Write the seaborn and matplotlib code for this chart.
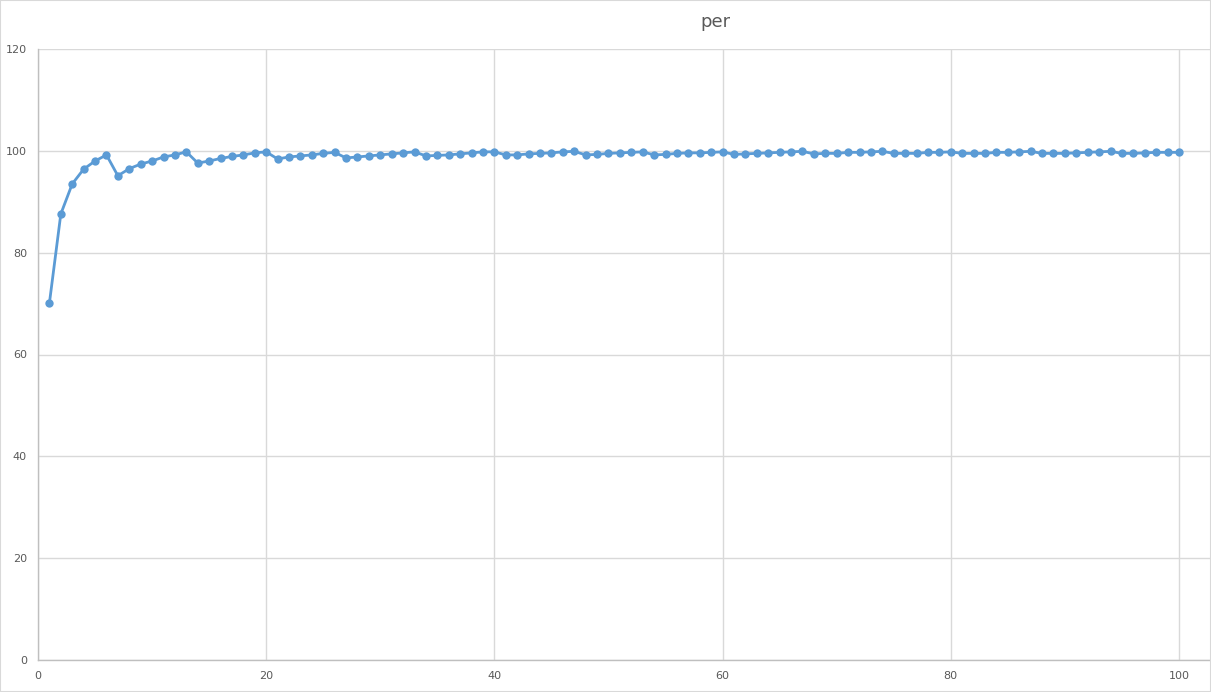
import matplotlib
matplotlib.use("Agg")
import matplotlib.pyplot as plt
import seaborn as sns
import pandas as pd

x_vals = list(range(1, 101))
per_vals = [
    70.1, 87.6, 93.5, 96.4, 98.0, 99.2, 95.1, 96.5, 97.4, 98.0,
    98.8, 99.2, 99.8, 97.6, 98.0, 98.5, 98.9, 99.2, 99.6, 99.8,
    98.4, 98.8, 99.0, 99.2, 99.5, 99.7, 98.6, 98.8, 99.0, 99.2,
    99.4, 99.6, 99.8, 99.0, 99.1, 99.2, 99.4, 99.6, 99.8, 99.8,
    99.2, 99.2, 99.4, 99.5, 99.6, 99.8, 99.9, 99.2, 99.3, 99.5,
    99.6, 99.7, 99.8, 99.2, 99.3, 99.5, 99.6, 99.6, 99.7, 99.8,
    99.3, 99.4, 99.5, 99.6, 99.7, 99.8, 99.9, 99.4, 99.5, 99.5,
    99.7, 99.7, 99.8, 99.9, 99.5, 99.5, 99.5, 99.7, 99.7, 99.8,
    99.5, 99.5, 99.5, 99.7, 99.7, 99.8, 99.9, 99.5, 99.5, 99.5,
    99.6, 99.7, 99.8, 99.9, 99.5, 99.5, 99.6, 99.7, 99.7, 99.7,
]
x_ticks = [0, 20, 40, 60, 80, 100]
y_ticks = [0, 20, 40, 60, 80, 100, 120]
title = "per"

df = pd.DataFrame({"x": x_vals, "per": per_vals})

sns.set_theme(style="white")
plt.rcParams['font.family'] = ['DejaVu Sans']

fig = plt.figure(figsize=(12.11, 6.92), dpi=100)
ax = fig.add_axes([38/1211, 1 - 660/692, (1210-38)/1211, (660-49)/692])

sns.lineplot(data=df, x="x", y="per", ax=ax, color="#5B9BD5", linewidth=2,
             marker="o", markersize=6, markeredgewidth=0, markerfacecolor="#5B9BD5")

ax.set_xlim(0, (1210 - 38) / 11.41)
ax.set_ylim(0, 120)
ax.set_xticks(x_ticks)
ax.set_yticks(y_ticks)
ax.grid(True, color="#d9d9d9", linewidth=1)
ax.set_axisbelow(True)
for s in ["top", "right"]:
    ax.spines[s].set_visible(False)
for s in ["left", "bottom"]:
    ax.spines[s].set_color("#bfbfbf")
    ax.spines[s].set_linewidth(1)
ax.tick_params(axis="both", length=0, labelsize=8, colors="#595959", pad=8)
ax.set_xlabel("")
ax.set_ylabel("")

fig.text(715/1211, 1 - 22/692, title, ha="center", va="center", fontsize=13, color="#595959")

# outer border
fig.patches.append(plt.Rectangle((0, 0), 1, 1, transform=fig.transFigure, fill=False,
                                 edgecolor="#d9d9d9", linewidth=1.5))

fig.savefig("out.png", dpi=100)
